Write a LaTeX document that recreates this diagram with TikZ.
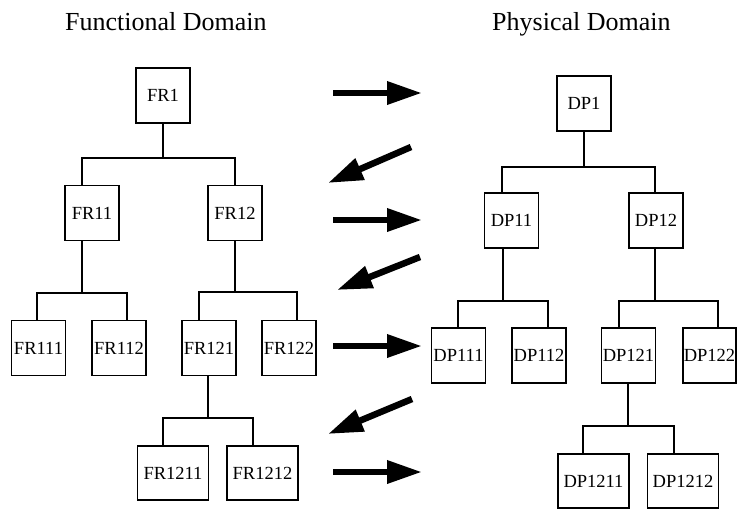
\documentclass[tikz,border=0pt]{standalone}
\usepackage{fontspec}
\setmainfont{Liberation Serif}
\usetikzlibrary{arrows.meta}
\begin{document}
\begin{tikzpicture}[x=1pt,y=-1pt,
  box/.style={draw, line width=1.4pt, inner sep=0pt, font=\fontsize{18.5}{18.5}\selectfont},
  sq/.style={box, minimum width=54pt, minimum height=55pt},
  wide/.style={box, minimum width=71pt, minimum height=54pt},
  tree/.style={line width=1.4pt},
  bigarrow/.style={line width=6.5pt, -{Triangle[length=35pt,width=22pt]}},
  title/.style={anchor=base west, inner sep=0pt, font=\fontsize{26}{26}\selectfont}]
\useasboundingbox (0,0) rectangle (737,509);

% titles
\node[title] (tF) at (65,30) {Functional Domain};
\node[title] (tP) at (492,30) {Physical Domain};

% functional domain
\node[sq] (FR1) at (163,95.5) {FR1};
\node[sq] (FR11) at (92,213) {FR11};
\node[sq] (FR12) at (235,213) {FR12};
\node[sq] (FR111) at (38.5,348) {FR111};
\node[sq] (FR112) at (119,348) {FR112};
\node[sq] (FR121) at (209,348) {FR121};
\node[sq] (FR122) at (289,348) {FR122};
\node[wide] (FR1211) at (173,473) {FR1211};
\node[wide] (FR1212) at (262.5,473) {FR1212};

% physical domain
\node[sq] (DP1) at (584,103.5) {DP1};
\node[sq] (DP11) at (511.5,220.5) {DP11};
\node[sq] (DP12) at (656,220.5) {DP12};
\node[sq] (DP111) at (458.5,355.5) {DP111};
\node[sq] (DP112) at (539,355.5) {DP112};
\node[sq] (DP121) at (628.5,355.5) {DP121};
\node[sq, minimum width=53pt] (DP122) at (709.5,355.5) {DP122};
\node[wide] (DP1211) at (593.5,481) {DP1211};
\node[wide] (DP1212) at (683,481) {DP1212};

% tree connectors: functional
\coordinate (a1) at (163,158); \coordinate (a1l) at (82,158); \coordinate (a1r) at (235,158);
\draw[tree] (FR1.south) -- (a1);
\draw[tree] (a1l |- FR11.north) -- (a1l) -- (a1r) -- (a1r |- FR12.north);

\coordinate (a2) at (82,293); \coordinate (a2l) at (37,293); \coordinate (a2r) at (127,293);
\draw[tree] (a2 |- FR11.south) -- (a2);
\draw[tree] (a2l |- FR111.north) -- (a2l) -- (a2r) -- (a2r |- FR112.north);

\coordinate (a3) at (235,292); \coordinate (a3l) at (199,292); \coordinate (a3r) at (297,292);
\draw[tree] (FR12.south) -- (a3);
\draw[tree] (a3l |- FR121.north) -- (a3l) -- (a3r) -- (a3r |- FR122.north);

\coordinate (a4) at (208,418); \coordinate (a4l) at (163,418); \coordinate (a4r) at (253,418);
\draw[tree] (a4 |- FR121.south) -- (a4);
\draw[tree] (a4l |- FR1211.north) -- (a4l) -- (a4r) -- (a4r |- FR1212.north);

% tree connectors: physical
\coordinate (b1) at (584,167); \coordinate (b1l) at (502,167); \coordinate (b1r) at (655,167);
\draw[tree] (DP1.south) -- (b1);
\draw[tree] (b1l |- DP11.north) -- (b1l) -- (b1r) -- (b1r |- DP12.north);

\coordinate (b2) at (503,301); \coordinate (b2l) at (458,301); \coordinate (b2r) at (548,301);
\draw[tree] (b2 |- DP11.south) -- (b2);
\draw[tree] (b2l |- DP111.north) -- (b2l) -- (b2r) -- (b2r |- DP112.north);

\coordinate (b3) at (655,301); \coordinate (b3l) at (619,301); \coordinate (b3r) at (718,301);
\draw[tree] (b3 |- DP12.south) -- (b3);
\draw[tree] (b3l |- DP121.north) -- (b3l) -- (b3r) -- (b3r |- DP122.north);

\coordinate (b4) at (628,426); \coordinate (b4l) at (583,426); \coordinate (b4r) at (674,426);
\draw[tree] (b4 |- DP121.south) -- (b4);
\draw[tree] (b4l |- DP1211.north) -- (b4l) -- (b4r) -- (b4r |- DP1212.north);

% zigzag arrows
\coordinate (r1s) at (333,93);  \coordinate (r1e) at (422,93);
\coordinate (l1s) at (411,147); \coordinate (l1e) at (328,183);
\coordinate (r2s) at (333,220); \coordinate (r2e) at (422,220);
\coordinate (l2s) at (420,257); \coordinate (l2e) at (337,290);
\coordinate (r3s) at (333,346); \coordinate (r3e) at (422,346);
\coordinate (l3s) at (412,399); \coordinate (l3e) at (328,434);
\coordinate (r4s) at (333,472); \coordinate (r4e) at (422,472);
\foreach \s/\e in {r1s/r1e,l1s/l1e,r2s/r2e,l2s/l2e,r3s/r3e,l3s/l3e,r4s/r4e}
  \draw[bigarrow] (\s) -- (\e);
\end{tikzpicture}
\end{document}
